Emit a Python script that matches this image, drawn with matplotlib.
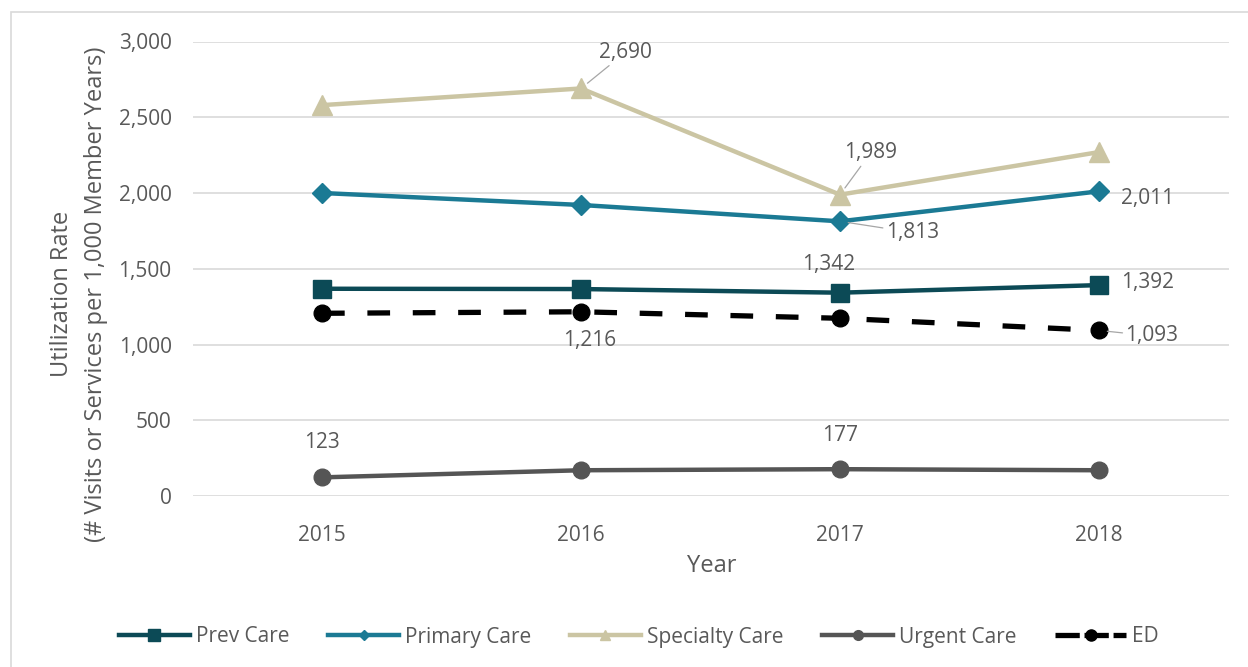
import matplotlib
matplotlib.use("Agg")
import matplotlib.pyplot as plt
from matplotlib.lines import Line2D
from matplotlib.patches import Rectangle
from matplotlib.ticker import FuncFormatter

plt.rcParams['font.family'] = ['Open Sans', 'DejaVu Sans']

years = ["2015", "2016", "2017", "2018"]
prev_care = [1368, 1366, 1342, 1392]
primary_care = [2000, 1921, 1813, 2011]
specialty_care = [2580, 2690, 1989, 2270]
urgent_care = [123, 170, 177, 170]
ed = [1206, 1216, 1173, 1093]

TEXT = "#595959"
GRID = "#d9d9d9"
LEADER = "#a6a6a6"
FS = 15

W, H = 1248, 667
fig = plt.figure(figsize=(W / 100, H / 100), dpi=100)
ax = fig.add_axes([192.5 / W, 1 - 496 / H, 1036 / W, 454.5 / H])

# outer chart frame
fig.patches.append(Rectangle((11 / W, -0.05), 1.1, 1 - 12 / H + 0.05,
                             transform=fig.transFigure, fill=False,
                             edgecolor=GRID, lw=1.2))

x = range(len(years))
series = [
    ("Prev Care", prev_care, dict(color="#0c4a56", marker="s", ms=13, lw=3.2), dict(marker="s", ms=9)),
    ("Primary Care", primary_care, dict(color="#1b7a94", marker="D", ms=10, lw=3.2), dict(marker="D", ms=5)),
    ("Specialty Care", specialty_care, dict(color="#cbc5a3", marker="^", ms=15, lw=3.2), dict(marker="^", ms=7)),
    ("Urgent Care", urgent_care, dict(color="#555555", marker="o", ms=12, lw=3.2), dict(marker="o", ms=7)),
    ("ED", ed, dict(color="black", marker="o", ms=12, lw=3.8, dashes=(4.3, 4.3)), dict(marker="o", ms=8)),
]

handles = []
for name, vals, style, leg in series:
    ax.plot(x, vals, solid_capstyle="butt", dash_capstyle="butt", zorder=3, **style)
    hstyle = {k: v for k, v in style.items() if k not in ("marker", "ms")}
    if "dashes" in hstyle:
        hstyle["dashes"] = (4.6, 0.9)
    handles.append(Line2D([], [], label=name, **hstyle, **leg))

ax.set_xlim(-0.5, 3.5)
ax.set_ylim(0, 3000)
ax.set_yticks(range(0, 3001, 500))
ax.yaxis.set_major_formatter(FuncFormatter(lambda v, p: f"{int(v):,}"))
ax.set_xticks(list(x))
ax.set_xticklabels(years)
ax.tick_params(length=0, labelsize=FS, labelcolor=TEXT)
ax.tick_params(axis="y", pad=15)
ax.tick_params(axis="x", pad=21)
ax.grid(axis="y", color=GRID, lw=1.2)
ax.set_axisbelow(True)
for s in ax.spines.values():
    s.set_visible(False)

fig.text(712 / W, 1 - 566 / H, "Year", ha="center", va="center",
         fontsize=17, color=TEXT)
fig.text(62 / W, 1 - 294 / H, "Utilization Rate", rotation=90,
         ha="center", va="center", fontsize=17, color=TEXT)
fig.text(96 / W, 1 - 294 / H, "(# Visits or Services per 1,000 Member Years)",
         rotation=90, ha="center", va="center", fontsize=17, color=TEXT)


def label(i, vals, dx, dy, lead=False):
    arrow = dict(arrowstyle="-", color=LEADER, lw=0.9, shrinkA=0, shrinkB=6) if lead else None
    ax.annotate(f"{vals[i]:,}", (i, vals[i]), xytext=(dx, dy), textcoords="offset points",
                ha="center", va="center", fontsize=FS, color=TEXT, arrowprops=arrow)


label(1, specialty_care, 32, 26, lead=True)
label(2, specialty_care, 22, 30, lead=True)
label(2, primary_care, 52, -8, lead=True)
label(3, primary_care, 35, -5)
label(3, prev_care, 35, 2)
label(2, prev_care, -8, 20)
label(1, ed, 6, -21)
label(3, ed, 38, -4, lead=True)
label(0, urgent_care, 0, 25)
label(2, urgent_care, 0, 24)

fig.legend(handles=handles, loc="center", bbox_to_anchor=(639 / W, 1 - 637 / H),
           ncol=5, frameon=False, fontsize=FS, labelcolor=TEXT,
           handlelength=3.4, handletextpad=0.3, columnspacing=1.85)

fig.savefig("out.png", dpi=100)
